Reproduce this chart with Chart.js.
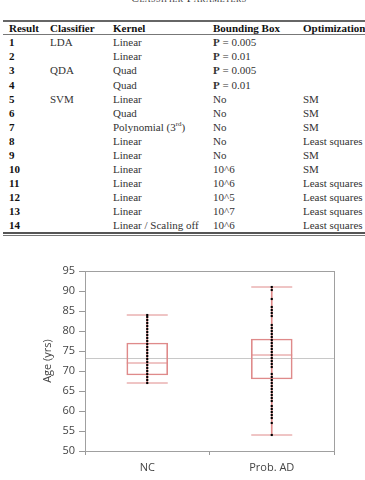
<!DOCTYPE html>
<html>
<head>
<meta charset="utf-8">
<script src="https://cdn.jsdelivr.net/npm/chart.js@4.4.0/dist/chart.umd.min.js"></script>
<style>
  html, body { margin: 0; padding: 0; background: #fff; }
  body { width: 365px; height: 480px; position: relative; overflow: hidden; font-family: "Liberation Serif", "DejaVu Serif", serif; }
  .cell { position: absolute; font-size: 11px; line-height: 14px; color: #333; white-space: nowrap; }
  .cell sup { font-size: 7px; line-height: 0; }
  .hd { font-weight: bold; color: #111; }
  .num { font-weight: bold; color: #111; }
  .rule { position: absolute; left: 3px; right: 0; }
  #caption { position: absolute; top: -7px; left: 0; width: 378px; text-align: center; font-size: 11.5px; line-height: 11px; font-variant: small-caps; color: #333; letter-spacing: 0.5px; }
  #chartBox { position: absolute; left: 0; top: 240px; width: 365px; height: 240px; }
</style>
</head>
<body>
<div id="caption">Classifier Parameters</div>
<div class="rule" style="top:20px;height:2px;background:#666"></div>
<div class="rule" style="top:34px;height:1px;background:#777"></div>
<div class="rule" style="top:232px;height:1.5px;background:#555"></div>
<div class="rule" style="top:235px;height:1px;background:#777"></div>
<div id="table"></div>
<div id="chartBox"><canvas id="ageChart" width="365" height="240"></canvas></div>

<script>
// Tabela de parametros
var headers = ['Result', 'Classifier', 'Kernel', 'Bounding Box', 'Optimization'];
var results = ['1', '2', '3', '4', '5', '6', '7', '8', '9', '10', '11', '12', '13', '14'];
var classifiers = ['LDA', '', 'QDA', '', 'SVM', '', '', '', '', '', '', '', '', ''];
var kernels = ['Linear', 'Linear', 'Quad', 'Quad', 'Linear', 'Quad', 'Polynomial (3<sup>rd</sup>)',
    'Linear', 'Linear', 'Linear', 'Linear', 'Linear', 'Linear', 'Linear / Scaling off'];
var boundingBoxes = ['<b>P</b> = 0.005', '<b>P</b> = 0.01', '<b>P</b> = 0.005', '<b>P</b> = 0.01',
    'No', 'No', 'No', 'No', 'No', '10^6', '10^6', '10^5', '10^7', '10^6'];
var optimizations = ['', '', '', '', 'SM', 'SM', 'SM', 'Least squares', 'SM', 'SM',
    'Least squares', 'Least squares', 'Least squares', 'Least squares'];

// Dados do boxplot
var categories = ['NC', 'Prob. AD'];
var boxLow = [69, 68];
var boxHigh = [77, 78];
var medians = [72, 74];
var whiskerLow = [67, 54];
var whiskerHigh = [84, 91];
var meanAge = 73.3;
var ncAges = [67, 67.75, 68.5, 69.25, 70, 70.75, 71.5, 72.25, 73, 73.75, 74.5, 75.25, 76, 76.75,
    77.5, 78.25, 79, 79.75, 80.5, 81.25, 82, 82.75, 83.5, 84];
var adAges = [91, 90.25, 88, 86, 85.25, 84.5, 83.75, 81.5, 80.75, 80, 79.25, 78.5, 77.75, 77, 76.25,
    75.5, 74.75, 74, 73.25, 72.5, 71.75, 71, 69.25, 68.5, 67.75, 67, 66.25, 65.5, 64.75, 64, 63.25,
    62.5, 61.25, 60.5, 59.75, 59, 58.25, 57, 54];

// monta a tabela
var colX = [9, 50, 113, 213, 303];
var table = document.getElementById('table');
function addCell(x, y, html, cls) {
    var d = document.createElement('div');
    d.className = 'cell' + (cls ? ' ' + cls : '');
    d.style.left = x + 'px';
    d.style.top = y + 'px';
    d.innerHTML = html;
    table.appendChild(d);
}
headers.forEach(function (h, i) { addCell(colX[i], 21, h, 'hd'); });
results.forEach(function (r, i) {
    var y = 35.3 + i * 14.07;
    addCell(colX[0], y, r, 'num');
    addCell(colX[1], y, classifiers[i]);
    addCell(colX[2], y, kernels[i]);
    addCell(colX[3], y, boundingBoxes[i]);
    addCell(colX[4], y, optimizations[i]);
});

var red = '#df8a8a';
var axisFont = { family: 'Open Sans', size: 11 };

var dots = ncAges.map(function (v) { return { x: 'NC', y: v }; })
    .concat(adAges.map(function (v) { return { x: 'Prob. AD', y: v }; }));

var framePlugin = {
    id: 'frame',
    beforeDatasetsDraw: function (chart) {
        var a = chart.chartArea, ctx = chart.ctx;
        var y = Math.round(chart.scales.y.getPixelForValue(meanAge)) + 0.5;
        ctx.save();
        ctx.strokeStyle = '#c8c8c8';
        ctx.lineWidth = 1;
        ctx.beginPath();
        ctx.moveTo(a.left, y);
        ctx.lineTo(a.right, y);
        ctx.stroke();
        ctx.strokeStyle = '#a0a0a0';
        ctx.strokeRect(a.left + 0.5, a.top + 0.5, a.right - a.left, a.bottom - a.top);
        ctx.restore();
    }
};

var ctx = document.getElementById('ageChart').getContext('2d');
new Chart(ctx, {
    type: 'bar',
    data: {
        labels: categories,
        datasets: [{
            type: 'line',
            data: dots,
            showLine: false,
            pointStyle: 'rect',
            pointRadius: 1.5,
            pointBackgroundColor: '#000',
            pointBorderColor: '#000',
            pointBorderWidth: 0,
            order: 0
        }, {
            type: 'line',
            data: medians,
            showLine: false,
            pointStyle: 'line',
            pointRadius: 20.5,
            pointBorderColor: red,
            pointBorderWidth: 1,
            order: 1
        }, {
            type: 'line',
            data: whiskerHigh,
            showLine: false,
            pointStyle: 'line',
            pointRadius: 20.5,
            pointBorderColor: red,
            pointBorderWidth: 1,
            order: 1
        }, {
            type: 'line',
            data: whiskerLow,
            showLine: false,
            pointStyle: 'line',
            pointRadius: 20.5,
            pointBorderColor: red,
            pointBorderWidth: 1,
            order: 1
        }, {
            data: categories.map(function (c, i) { return [boxLow[i], boxHigh[i]]; }),
            backgroundColor: 'rgba(0,0,0,0)',
            borderColor: red,
            borderWidth: 1,
            borderSkipped: false,
            barThickness: 41,
            grouped: false,
            order: 2
        }, {
            data: categories.map(function (c, i) { return [whiskerLow[i], whiskerHigh[i]]; }),
            backgroundColor: red,
            borderWidth: 0,
            barThickness: 1,
            grouped: false,
            order: 3
        }]
    },
    options: {
        responsive: false,
        animation: false,
        layout: { padding: { top: 31, right: 31, left: 0, bottom: 0 } },
        plugins: { legend: { display: false }, tooltip: { enabled: false } },
        scales: {
            x: {
                offset: true,
                afterFit: function (s) { s.height = 29; },
                grid: { drawOnChartArea: false, offset: true, tickLength: 4, color: '#999' },
                border: { color: '#999' },
                ticks: { color: '#444', font: axisFont, padding: 6 }
            },
            y: {
                min: 50,
                max: 95,
                afterFit: function (s) { s.width = 85; },
                grid: { drawOnChartArea: false, tickLength: 6, color: '#999' },
                border: { color: '#999' },
                ticks: { stepSize: 5, color: '#444', font: axisFont, padding: 4 },
                title: { display: true, text: 'Age (yrs)', color: '#444', font: axisFont, padding: { top: 41, bottom: 0 } }
            }
        }
    },
    plugins: [framePlugin]
});
</script>
</body>
</html>
